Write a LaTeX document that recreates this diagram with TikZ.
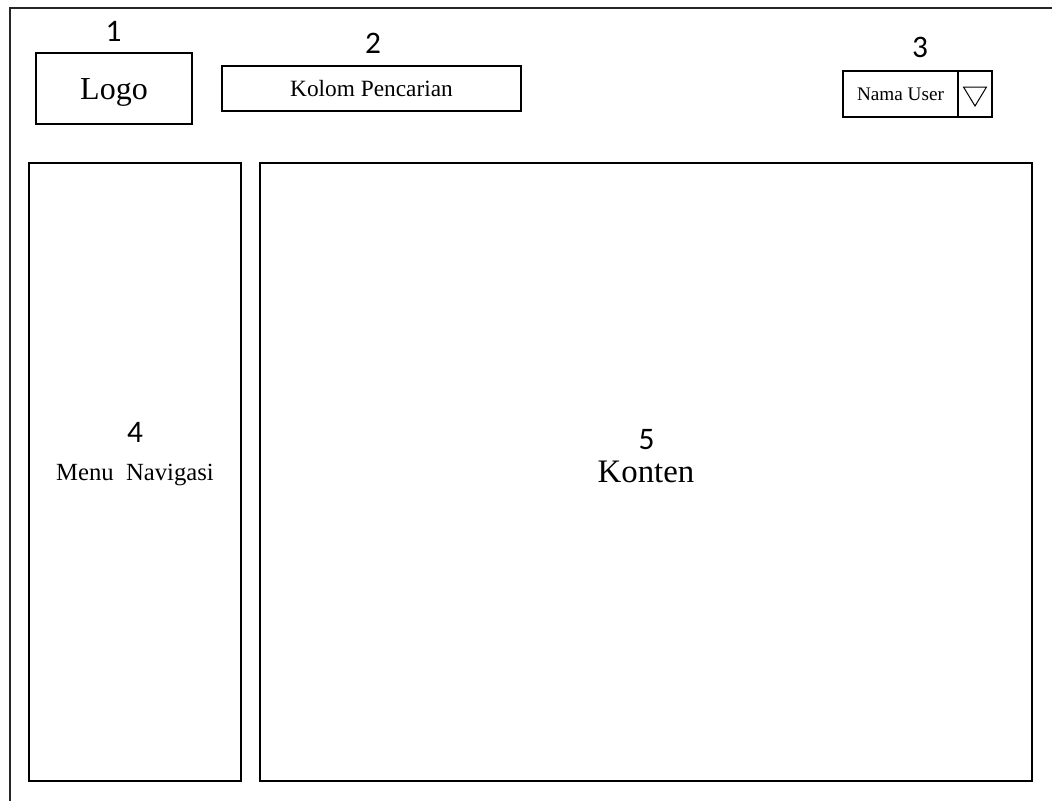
\documentclass[tikz,border=0pt]{standalone}
\usepackage{fontspec}
\setmainfont{Liberation Serif}
\newfontfamily\numfont{Carlito}
\usepackage{xcolor}
\usepackage{tikz}
\usetikzlibrary{positioning,calc}

\tikzset{
  panel/.style={draw, line width=0.85pt, inner sep=0pt, text depth=0pt},
  num/.style={font=\numfont\fontsize{23.5}{23.5}\selectfont, inner sep=0pt}
}

\begin{document}
\begin{tikzpicture}[x=0.75pt, y=-0.75pt]
\useasboundingbox (0,0) rectangle (1052,801);

% outer frame (only top and left edges)
\draw[line width=0.85pt, black!85] (10,801) -- (10,8) -- (1052,8);

% header: logo, search, user
\node[panel, minimum width=117pt, minimum height=53.25pt,
      font=\fontsize{24}{24}\selectfont, text height=15.9pt] (logo) at (114,88.5) {Logo};
\node[panel, minimum width=224.25pt, minimum height=33.75pt,
      font=\fontsize{17.5}{17.5}\selectfont, text height=11.6pt] (cari) at (371.5,88.5) {Kolom Pencarian};
\node[panel, minimum width=86.25pt, minimum height=34.5pt,
      font=\fontsize{14.4}{14.4}\selectfont, text height=9.5pt] (user) at (900.5,94) {Nama User};
\node[panel, minimum width=25.5pt, minimum height=34.5pt] (drop) at (975,94) {};
\draw[line width=0.75pt] ($(drop.center)+(-11.5,-7)$) -- ++(23,0) -- ++(-11.5,19) -- cycle;

% body: navigation and content
\node[panel, minimum width=159pt, minimum height=463.5pt,
      font=\fontsize{18.5}{18.5}\selectfont, text height=12.2pt] (menu) at (135,472) {Menu\ \ Navigasi};
\node[panel, minimum width=579pt, minimum height=463.5pt,
      font=\fontsize{24.6}{24.6}\selectfont, text height=16.3pt] (konten) at (646,472) {Konten};

% numbers
\node[num] (n1) at (113.5,31.5) {1};
\node[num] (n2) at (373,43.5) {2};
\node[num] (n3) at (920,47.5) {3};
\node[num] (n4) at (135,432.5) {4};
\node[num] (n5) at (646.5,440) {5};
\end{tikzpicture}
\end{document}
